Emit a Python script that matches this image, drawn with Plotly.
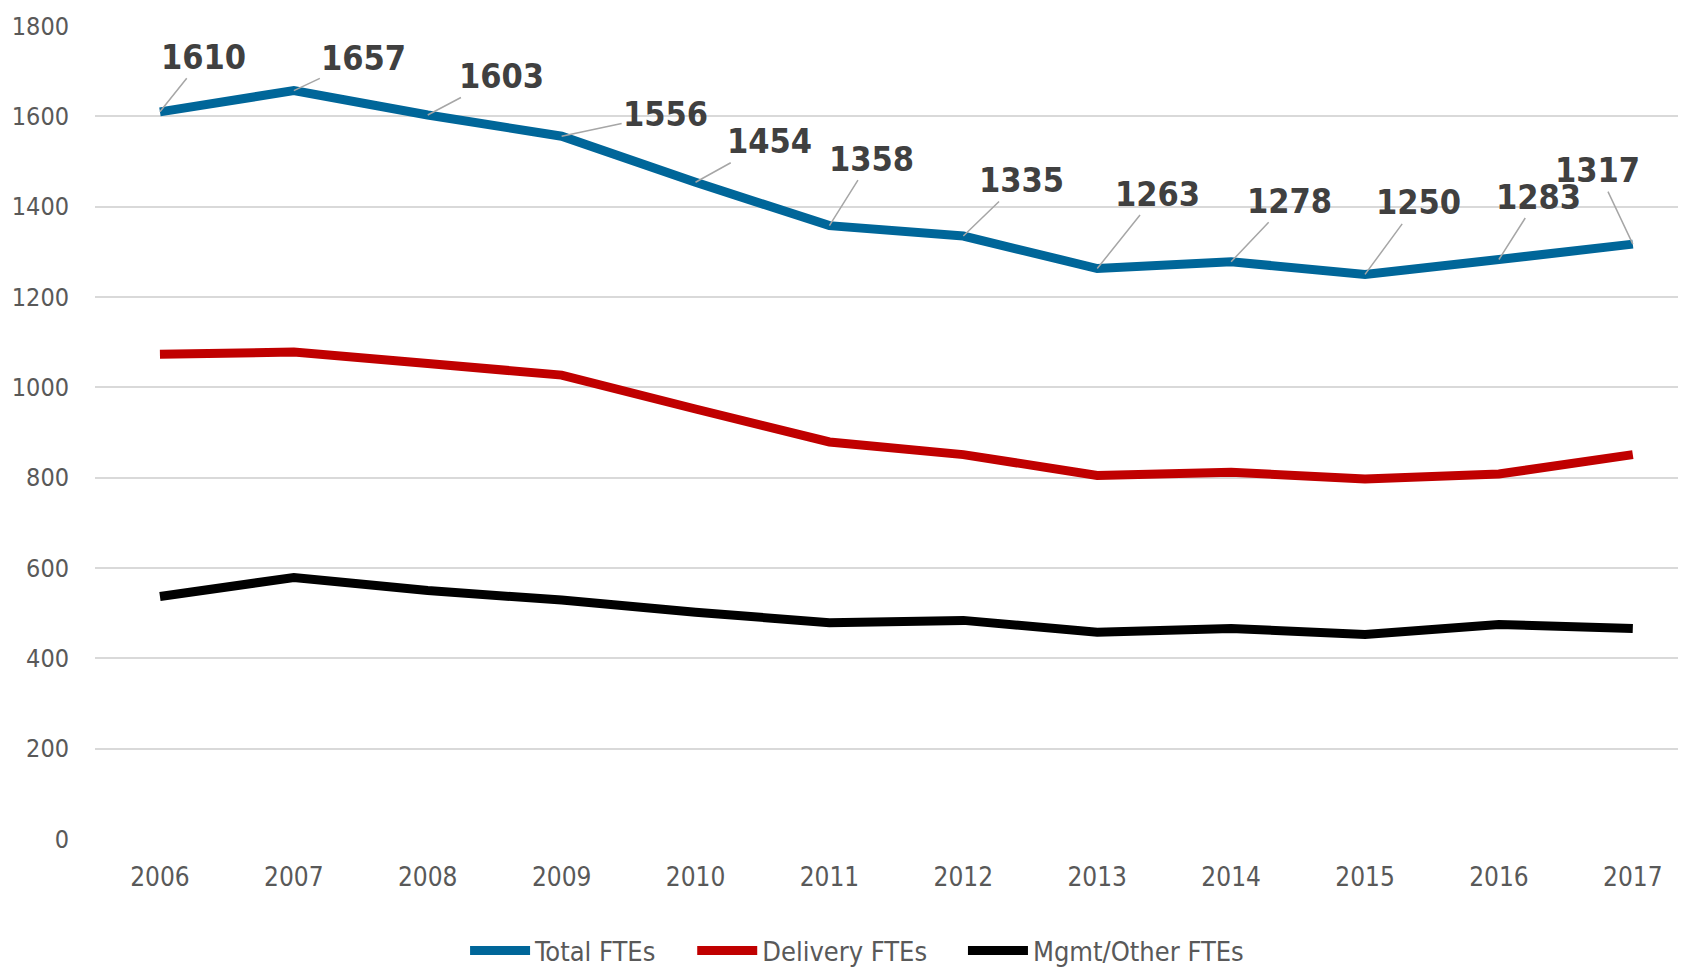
import plotly.graph_objects as go

years = ["2006", "2007", "2008", "2009", "2010", "2011", "2012", "2013", "2014", "2015", "2016", "2017"]
total_ftes = [1610, 1657, 1603, 1556, 1454, 1358, 1335, 1263, 1278, 1250, 1283, 1317]
delivery_ftes = [1073, 1078, 1053, 1027, 952, 879, 851, 805, 812, 797, 808, 851]
mgmt_ftes = [537, 579, 550, 529, 502, 479, 484, 458, 466, 453, 475, 466]

# pixel offsets of the data labels (text centre relative to the point)
label_dx = [44, 70, 74, 104, 74, 42, 58, 60, 58, 53, 40, -35]
label_dy = [-55, -33, -39, -22, -41, -67, -56, -75, -61, -72, -63, -74]

narrow = "DejaVu Sans Condensed, Liberation Sans Narrow, sans-serif"
gap = "\u00a0" * 4

fig = go.Figure()
fig.add_trace(go.Scatter(x=years, y=total_ftes, name="Total FTEs" + gap, mode="lines",
                         line=dict(color="#006699", width=9)))
fig.add_trace(go.Scatter(x=years, y=delivery_ftes, name="Delivery FTEs" + gap, mode="lines",
                         line=dict(color="#C00000", width=9)))
fig.add_trace(go.Scatter(x=years, y=mgmt_ftes, name="Mgmt/Other FTEs", mode="lines",
                         line=dict(color="#000000", width=9)))

for i in range(len(years)):
    fig.add_annotation(x=i, y=total_ftes[i], xref="x", yref="y",
                       text="<b>" + str(total_ftes[i]) + "</b>",
                       showarrow=True, arrowhead=0, arrowwidth=1.5, arrowcolor="#A6A6A6",
                       ax=label_dx[i], ay=label_dy[i],
                       font=dict(family=narrow, size=34, color="#404040"))

# the page body adds 8px around the figure, so margins are pulled in by 8
fig.update_layout(
    width=1686, height=968,
    margin=dict(l=87, r=0, t=18, b=137),
    paper_bgcolor="white", plot_bgcolor="white",
    font=dict(family=narrow, size=26, color="#595959"),
    showlegend=True,
    legend=dict(orientation="h", xref="container", yref="container",
                x=0.5036, xanchor="center", y=0.0258, yanchor="middle",
                font=dict(size=27, color="#595959"), itemwidth=60),
    xaxis=dict(type="category", range=[-0.485, 11.457], showgrid=False, showline=False,
               zeroline=False, ticks="", ticklabelstandoff=20, automargin=False),
    yaxis=dict(range=[0, 1800], dtick=200, showgrid=True, gridcolor="#D9D9D9", gridwidth=1.5,
               zeroline=False, showline=False, ticks="", ticklabelstandoff=25, automargin=False,
               tickfont=dict(size=25)),
)

fig.write_html("out.html")
